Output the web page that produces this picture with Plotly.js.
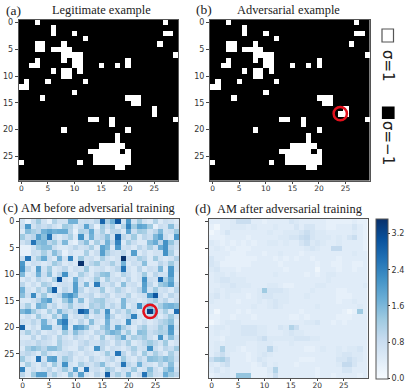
<!DOCTYPE html>
<html>
<head>
<meta charset="utf-8">
<script src="https://cdn.plot.ly/plotly-3.0.1.min.js"></script>
<style>
html, body { margin: 0; padding: 0; background: #fff; }
#chart { width: 407px; height: 390px; }
</style>
</head>
<body>
<div id="chart"></div>
<script>
// white cells (sigma = 1) per row of the legitimate example, as column numbers
const whiteCells = [
    [3, 27], [6], [6, 10, 27, 28], [12], [3, 4, 8, 26],
    [3, 4, 6, 7, 8, 9], [8, 9, 10, 11, 29], [3, 8, 10, 11, 20], [2, 3, 10, 11, 15, 18, 20], [6, 8, 9, 11],
    [8, 9], [1, 5, 12], [0, 1], [10], [4, 20, 21, 22],
    [21, 22], [25], [25], [13, 14, 17, 29], [17],
    [8, 20], [18], [18], [15, 16, 17, 18, 19], [13, 14, 15, 16, 17, 18, 20],
    [14, 15, 16, 17, 18, 19, 20], [0, 11, 14, 15, 16, 17, 18, 19, 20], [18, 19], [], []
];
const flippedRow = 17;
const flippedCol = 24;

const amBefore = [
    [.7,.3,.8,1.3,.7,.3,1.1,.7,.7,1.7,1.7,.7,.8,.7,1.0,2.8,1.2,1.7,3.0,.7,2.1,.7,1.3,.7,.5,1.1,.5,.8,.7,.5],
    [.8,2.1,.7,1.0,.8,1.0,.7,.5,1.3,1.1,.5,.8,1.9,1.0,.3,1.3,.8,1.2,.5,1.1,2.4,1.3,1.9,1.8,1.3,.3,.8,.7,1.5,.7],
    [.5,1.5,1.2,1.0,1.7,1.9,1.7,1.8,1.8,1.0,.3,1.1,1.0,1.8,.7,1.2,.5,1.0,1.0,.5,1.9,.8,1.3,1.2,.7,1.0,1.6,.7,.8,1.3],
    [1.3,.8,1.0,2.0,1.5,2.6,.8,.5,.8,1.2,.5,2.2,.7,1.7,.8,1.0,1.5,.7,2.8,1.0,.7,1.3,.5,1.0,.8,1.6,2.0,.8,.5,2.1],
    [.7,1.0,2.6,1.5,1.6,1.0,1.3,.7,1.6,.5,.3,1.0,1.5,.5,1.2,.7,1.7,1.0,2.4,.5,1.2,.8,.5,.5,1.5,1.8,1.0,2.2,1.4,.8],
    [.3,.3,.7,1.3,1.5,1.5,.8,.5,.5,.7,1.0,.7,.8,1.2,.5,1.9,1.6,.5,2.1,.7,.8,.5,1.0,.7,1.2,.7,1.8,2.2,1.0,.7],
    [.3,.3,.8,.7,1.2,.7,1.5,1.0,.3,.7,.5,.5,1.2,.5,.8,2.0,1.2,.8,.7,1.0,.5,2.0,.5,.8,.5,.7,.7,2.2,1.2,.5],
    [.8,2.6,.7,1.2,1.8,.8,.5,1.7,.7,2.4,.5,1.3,.7,.8,.5,1.2,.7,.5,.7,3.5,.8,.7,1.2,1.0,.5,1.3,.7,.5,.7,1.1],
    [2.1,.5,.8,.7,.5,.7,1.3,1.0,.5,.7,.5,3.5,.7,1.0,1.3,.7,.8,1.2,.7,1.7,.5,.8,.7,1.5,.5,.5,1.0,.7,1.3,.7],
    [2.2,1.0,.5,2.0,.7,1.3,.5,.7,1.0,.5,.8,.7,1.3,.5,.7,.8,.5,.7,1.0,2.6,.7,.5,1.0,.5,.8,.7,1.6,.5,2.1,.7],
    [1.6,.5,.7,1.7,.8,1.5,.5,1.0,2.2,.7,.5,1.2,.8,.5,1.0,1.4,1.5,.7,.5,1.1,.8,.5,.7,1.3,.5,1.0,.7,.7,2.1,.5],
    [.5,.8,.5,1.0,.7,.5,1.2,3.1,.7,.5,1.7,.8,.5,.7,1.3,.5,1.2,.7,.8,.5,1.0,.5,.7,2.2,.8,.7,2.7,1.2,1.8,.5],
    [1.0,.5,.8,.5,1.2,1.0,.5,.7,.8,.7,2.0,.7,1.6,.5,2.5,.8,.7,1.0,.5,1.5,.7,.8,.5,2.0,1.0,.5,1.3,1.5,2.0,.8],
    [1.7,.7,.5,1.1,.7,1.5,2.9,.5,1.0,.7,2.0,1.0,.5,.8,.7,1.3,.5,.7,1.1,.8,.5,.7,1.0,1.9,.7,1.3,.7,.8,.5,1.0],
    [1.5,.8,2.3,.7,1.3,.5,.7,1.0,1.9,2.2,1.7,.7,.8,1.0,.5,.8,1.0,.5,.8,.7,1.1,.5,.7,.8,2.1,3.0,.8,.5,1.0,.7],
    [.5,.5,.7,1.0,1.7,2.0,.7,.5,1.3,1.8,.7,1.5,.5,1.0,1.2,1.3,.8,.7,.5,1.6,.8,.7,.5,.7,1.0,1.3,.7,1.0,.5,.8],
    [.7,1.2,.5,1.7,1.5,.7,1.0,.5,.8,1.3,.7,.8,.5,1.2,1.0,1.3,.7,1.0,.7,1.6,.5,.8,2.2,1.0,1.5,.8,1.2,1.6,1.7,1.5],
    [1.6,1.9,1.3,.8,.5,1.2,.7,1.6,1.0,.7,1.0,2.9,2.5,.8,1.4,.7,2.2,.5,1.0,.7,1.3,.8,.5,1.0,3.3,1.6,.7,1.2,.5,2.7],
    [.5,.8,.5,1.3,.7,.5,1.3,.7,1.8,.5,.8,.7,1.2,.5,.8,.7,1.9,1.0,.5,.7,1.0,2.4,.7,.5,.8,1.0,.5,.8,1.3,.7],
    [.8,.7,1.0,.7,1.7,.8,.5,2.0,2.5,.7,.5,1.0,.5,1.5,.7,.5,1.7,.7,.8,.5,2.2,.7,.5,.8,.5,.7,1.0,1.2,1.5,.5],
    [2.8,.5,.8,.5,1.8,1.8,.7,.8,2.2,.5,2.1,1.9,1.5,.7,.5,1.2,1.6,.7,1.9,1.2,.8,.5,1.0,1.3,.7,.8,1.3,1.0,2.1,.7],
    [.7,1.2,.7,1.0,.5,.7,.8,.5,1.3,.7,1.5,1.0,.7,.5,1.0,.8,1.4,1.7,1.5,.7,1.3,.5,1.5,1.4,.8,1.0,1.2,1.1,2.0,.5],
    [.5,.5,1.0,.5,1.0,.8,.5,1.1,.7,.5,1.0,.7,.5,.8,.5,1.3,.5,.8,1.2,1.8,.7,1.2,1.0,1.3,.8,.5,2.2,.7,1.5,.8],
    [.7,.8,.7,1.0,.8,.7,.5,1.2,.8,.7,.5,.8,1.0,.7,.7,1.0,.8,.5,1.0,.7,1.2,.5,.7,1.0,1.3,1.0,.7,1.3,.5,.7],
    [.5,1.2,1.5,1.3,1.0,1.5,1.5,1.2,.7,.5,.5,1.0,.7,.5,2.2,1.0,.5,.8,.7,.5,.8,1.2,.7,.8,2.2,.8,.5,1.0,.8,1.3],
    [.8,1.0,.8,.5,1.2,.7,.5,.7,.8,1.0,.7,.5,.8,.7,.5,.7,1.3,.7,2.6,1.0,.5,1.0,.5,1.3,.7,1.2,.8,.5,1.2,.7],
    [1.3,.7,.5,2.6,.7,1.9,2.0,.7,1.3,1.0,.5,.7,.5,1.0,.7,.5,.8,1.0,.5,1.3,.7,.5,1.0,.7,1.5,1.4,1.2,1.5,1.3,.8],
    [.5,1.2,.7,.5,1.0,.5,1.3,.7,2.2,.7,.5,1.2,.8,.7,1.0,1.5,.7,.5,.8,2.6,1.0,.7,1.7,.8,.7,.5,1.1,.7,1.5,.5],
    [2.4,.5,.8,.5,.7,1.0,.5,.8,1.3,.7,2.0,.5,2.6,.7,.8,.5,1.3,1.0,.5,.8,.7,1.3,.5,.7,1.5,.8,.5,1.3,1.7,.7],
    [1.0,.5,1.3,2.0,2.0,.8,1.2,.7,.5,1.5,.8,2.0,.7,.5,1.0,.7,2.9,.8,1.2,.7,1.6,.5,.8,2.6,1.3,.8,.7,1.8,1.3,1.0]
];

const amAfter = [
    [.4,.4,.4,.4,.5,.8,.8,.8,.4,.4,.3,.4,.4,.4,.4,.6,.5,.4,.4,.4,.4,.4,.3,.3,.3,.3,.3,.4,.3,.3],
    [.3,.15,.4,.4,.5,.5,.5,.4,.5,.4,.4,.4,.5,.4,.4,.4,.6,.4,.6,.6,.4,.4,.3,.3,.4,.4,.4,.6,.4,.3],
    [.15,.3,.4,.6,.4,.4,.4,.4,.4,.4,.4,.5,.4,.4,.5,.5,.5,.6,.8,.6,.5,.5,.4,.4,.4,.4,.4,.5,.4,.3],
    [.3,.3,.3,.4,.4,.4,.4,.3,.4,.4,.4,.4,.4,.5,.5,.6,.6,.8,.9,.6,.5,.5,.5,.4,.5,.4,.6,.8,.4,.3],
    [.5,.4,.3,.4,.3,.4,.3,.4,.3,.4,.4,.5,.5,.4,.5,.4,.4,.6,.8,.5,.6,.5,.4,.4,.5,.4,.4,.4,.4,.3],
    [.4,.5,.4,.3,.4,.3,.3,.3,.4,.4,.4,.4,.4,.4,.4,.4,.4,.4,.5,.6,.5,.4,.4,.9,.9,.4,.4,.4,.4,.3],
    [.4,.4,.4,.4,.3,.3,.3,.4,.4,.4,.3,.4,.4,.5,.4,.4,.4,.3,.4,.4,.4,.4,.4,.4,.4,.4,.4,.5,.4,.4],
    [.6,.4,.4,.3,.3,.3,.3,.3,.3,.4,.4,.4,.3,.4,.3,.4,.3,.4,.4,.3,.4,.4,.4,.4,.3,.4,.4,.4,.4,.4],
    [.6,.5,.3,.3,.3,.3,.3,.3,.4,.4,.4,.4,.4,.3,.4,.4,.4,.4,.4,.4,.3,.4,.4,.3,.3,.4,.4,.3,.3,.4],
    [.5,.6,.4,.4,.4,.3,.4,.4,.4,.4,.4,.4,.4,.4,.3,.4,.4,.4,.4,.4,.15,.4,.4,.4,.3,.4,.4,.3,.4,.4],
    [.4,.5,.5,.4,.5,.4,.4,.4,.4,.4,.4,.4,.5,.4,.4,.4,.4,.4,.3,.4,.3,.4,.5,.5,.4,.4,.4,.4,.4,.4],
    [.4,.5,.6,.6,.5,.5,.5,.4,.4,.4,.4,.4,.4,.4,.4,.4,.4,.4,.4,.4,.4,.4,.5,.4,.4,.4,.4,.4,.4,.4],
    [.4,.4,.5,.5,.6,.5,.5,.5,.4,.4,.4,.5,.5,.4,.3,.3,.4,.4,.4,.4,.5,.5,.4,.4,.4,.4,.4,.4,.4,.5],
    [.4,.5,.4,.5,.5,.5,.4,.4,.4,.5,1.3,.6,.6,.6,.5,.4,.4,.4,.4,.5,.4,.4,.4,.4,.3,.3,.4,.4,.4,.4],
    [.5,.6,.4,.5,.4,.4,.4,.3,.4,.5,.6,.6,.5,.5,.5,.4,.4,.4,.5,.4,.4,.4,.4,.4,.3,.3,.3,.4,.4,.4],
    [.5,.4,.4,.4,.4,.3,.4,.4,.4,.5,.4,.5,.6,.5,.5,.4,.4,.4,.4,.4,.4,.4,.4,.4,.3,.4,.4,.5,.4,.4],
    [.4,.4,.4,.4,.4,.4,.4,.4,.5,.4,.4,.5,.6,.5,.4,.4,.4,.4,.4,.4,.5,.4,.4,.4,.4,.4,.4,.4,.5,.4],
    [.4,.15,.4,.4,.4,.3,.4,.3,.4,.4,.4,.4,.4,.4,.4,.4,.4,.3,.4,.4,.4,.4,.4,.4,.4,.3,.15,.3,1.3,.4],
    [.3,.3,.4,.4,.3,.4,.4,.4,.3,.4,.4,.4,.4,.4,.4,.3,.3,.4,.3,.4,.4,.4,.4,.4,.3,.3,.3,.4,.4,.4],
    [.15,.3,.4,.5,.5,.5,.4,.4,.4,.4,.4,.4,.4,.4,.4,.4,.4,.4,.5,.5,.6,.4,.4,.3,.4,.3,.4,.4,.4,.4],
    [.4,.5,.5,.4,.5,.5,.6,.6,.6,.5,.5,.4,.4,.6,.5,1.1,.8,.4,.4,.4,.4,.4,.4,.4,.4,.4,.4,.4,.4,.4],
    [.4,.5,.4,.4,.5,.5,.6,.6,.6,.5,.5,.4,.4,.4,.5,.6,.5,.5,.4,.4,.4,.4,.4,.4,.4,.4,.4,.4,.4,.4],
    [.4,.4,.3,.5,.5,.5,.5,.5,.5,.6,.8,.5,.5,.5,.5,.5,.6,.6,.6,.5,.5,.4,.4,.4,.4,.4,.4,.4,.4,.4],
    [.4,.5,.4,.5,.5,.5,.5,.4,.4,.5,.5,.5,.4,.4,.4,.5,.4,.4,.4,.4,.4,.4,.4,.4,.4,.4,.4,.4,.4,.4],
    [.4,.5,1.1,.5,.5,.4,.3,.4,.4,.5,.5,1.0,.5,.4,.4,.4,.4,.4,.3,.3,.4,.5,.4,.4,.5,.4,.5,.5,.6,.4],
    [.4,.6,.8,.5,.4,.4,.4,.3,.4,.5,.6,.5,.4,.4,.4,.4,.4,.4,.4,.4,.4,.4,.4,.4,.5,.6,.6,.5,.5,.4],
    [.8,1.1,1.2,.9,.4,.4,.4,.3,.4,.6,.5,.4,.4,.4,.4,.4,.4,.3,.3,.3,.4,.4,.4,.4,.6,.6,.8,.6,.5,.4],
    [.5,.4,.6,.8,.4,.4,.4,.4,.3,.4,.6,.4,.5,.4,.4,.4,.3,.4,.4,.4,.4,.4,.4,.4,.5,.9,.9,.6,.4,.4],
    [.4,.6,.4,.5,.4,.4,.4,.4,.3,.3,.3,.5,1.1,.4,.4,.4,.4,.4,.4,.4,.3,.4,.4,.4,.4,.6,.6,.4,.4,.4],
    [.3,.4,.5,.5,.4,1.4,1.4,1.4,.3,.3,.3,.4,.8,.4,.4,.4,.4,.4,.4,.4,.3,.4,.4,.3,.4,.4,.4,.4,.3,.4]
];

const tickValues = [0, 5, 10, 15, 20, 25];
const colorbarTicks = [0, 0.8, 1.6, 2.4, 3.2];
const colorbarLabels = ['0.0', '0.8', '1.6', '2.4', '3.2'];

const W = 407, H = 390;
const blues = [
    [0, '#f7fbff'], [0.125, '#deebf7'], [0.25, '#c6dbef'], [0.375, '#9ecae1'], [0.5, '#6baed6'],
    [0.625, '#4292c6'], [0.75, '#2171b5'], [0.875, '#08519c'], [1, '#08306b']
];
const greys = [[0, '#000'], [1, '#fff']];
const serif = 'Liberation Serif, serif';
const sans = 'DejaVu Sans, sans-serif';

const legit = whiteCells.map(cols => {
    const row = new Array(30).fill(-1);
    cols.forEach(c => { row[c] = 1; });
    return row;
});
const adversarial = legit.map(row => row.slice());
adversarial[flippedRow][flippedCol] = 1;

function hm(z, n, scale, zmin, zmax, extra) {
    return Object.assign({
        type: 'heatmap', z: z, xaxis: 'x' + n, yaxis: 'y' + n,
        colorscale: scale, zmin: zmin, zmax: zmax, showscale: false,
        xgap: 0, ygap: 0, hoverinfo: 'skip'
    }, extra || {});
}

const data = [
    hm(legit, '', greys, -1, 1),
    hm(adversarial, '2', greys, -1, 1),
    hm(amBefore, '3', blues, 0, 3.53),
    hm(amAfter, '4', blues, 0, 3.53, {
        showscale: true,
        colorbar: {
            x: 375.5 / W, xanchor: 'left', xpad: 0, y: 1 - 378.5 / H, yanchor: 'bottom', ypad: 0,
            len: 159.5 / H, thickness: 12, outlinecolor: '#555', outlinewidth: 1,
            tickmode: 'array', tickvals: colorbarTicks, ticktext: colorbarLabels,
            ticks: 'outside', ticklen: 2, tickcolor: '#333',
            tickfont: { family: sans, size: 8, color: '#333' }
        }
    })
];

function axisX(l, r, anchor) {
    return {
        domain: [l / W, r / W], anchor: anchor, range: [-0.5, 29.5],
        tickmode: 'array', tickvals: tickValues, ticks: 'outside', ticklen: 2, tickwidth: 1, tickcolor: '#444',
        ticklabelstandoff: -2,
        tickfont: { family: sans, size: 7.5, color: '#333' },
        showgrid: false, zeroline: false, showline: true, linecolor: '#555', linewidth: 1, mirror: true
    };
}
function axisY(t, b, anchor, labels) {
    return {
        domain: [1 - b / H, 1 - t / H], anchor: anchor, range: [29.5, -0.5],
        tickmode: 'array', tickvals: tickValues, ticks: 'outside', ticklen: 3, tickwidth: 1, tickcolor: '#444',
        showticklabels: labels, tickfont: { family: sans, size: 8, color: '#333' },
        showgrid: false, zeroline: false, showline: true, linecolor: '#555', linewidth: 1, mirror: true
    };
}

function label(text, x, y, size, family, angle) {
    return {
        text: text, xref: 'paper', yref: 'paper', x: x / W, y: 1 - y / H, showarrow: false,
        xanchor: 'center', yanchor: 'middle', textangle: angle || 0,
        font: { family: family || serif, size: size || 12.4, color: '#222' }
    };
}

function ring(xref, yref) {
    return {
        type: 'circle', xref: xref, yref: yref, x0: 24 - 1.25, x1: 24 + 1.25, y0: 17 - 1.25, y1: 17 + 1.25,
        line: { color: '#e3101c', width: 2.5 }, fillcolor: 'rgba(0,0,0,0)'
    };
}

function box(x0, y0, x1, y1, fill, stroke) {
    return {
        type: 'rect', xref: 'paper', yref: 'paper',
        x0: x0 / W, x1: x1 / W, y0: 1 - y1 / H, y1: 1 - y0 / H,
        fillcolor: fill, line: { color: stroke, width: 1.2 }
    };
}

const layout = {
    width: W, height: H, margin: { l: 0, r: 0, t: 0, b: 0 },
    paper_bgcolor: '#fff', plot_bgcolor: '#fff', showlegend: false,
    xaxis: axisX(18.7, 178.3, 'y'), yaxis: axisY(20, 180.5, 'x', true),
    xaxis2: axisX(210, 369.5, 'y2'), yaxis2: axisY(20, 180.5, 'x2', true),
    xaxis3: axisX(20, 179.3, 'y3'), yaxis3: axisY(218.5, 377.7, 'x3', true),
    xaxis4: axisX(209, 367.5, 'y4'), yaxis4: axisY(219, 378, 'x4', false),
    shapes: [
        ring('x2', 'y2'),
        ring('x3', 'y3'),
        box(382, 29, 393.5, 42, '#fff', '#555'),
        box(382.5, 107, 394, 118.5, '#000', '#000')
    ],
    annotations: [
        label('(a)', 13, 10, 13.5),
        label('Legitimate example', 101, 10),
        label('(b)', 203.5, 9, 13.5),
        label('Adversarial example', 288.5, 10),
        label('(c)', 10, 207, 13.5),
        label('AM before adversarial training', 98, 208),
        label('(d)', 203, 208, 13.5),
        label('AM after adversarial training', 289, 209),
        label('σ=1', 388, 66, 15, sans, 90),
        label('σ=−1', 388, 143, 15, sans, 90)
    ]
};

Plotly.newPlot('chart', data, layout, { displayModeBar: false, staticPlot: true });
</script>
</body>
</html>
